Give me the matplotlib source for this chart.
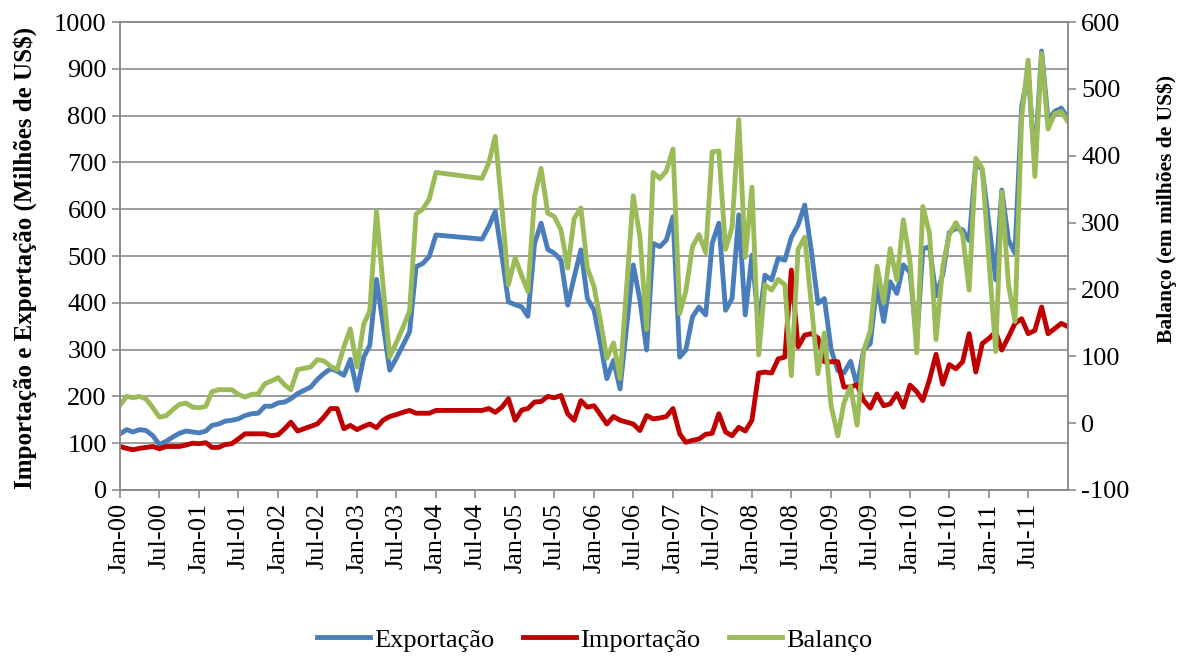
import matplotlib
matplotlib.use("Agg")
import matplotlib.pyplot as plt
import matplotlib.dates as mdates
import numpy as np
import pandas as pd

plt.rcParams["font.family"] = ["Liberation Serif", "DejaVu Serif"]
plt.rcParams["axes.unicode_minus"] = False

# Monthly data Jan-00 .. Jan-12 (Feb-04 .. Jul-04 missing in the source)
exportacao = [
    120, 129, 124, 129, 127, 116, 97, 104, 113, 121, 126, 124,      # 2000
    122, 126, 138, 141, 147, 149, 152, 159, 163, 164, 179, 179,     # 2001
    186, 188, 195, 206, 213, 220, 236, 249, 259, 254, 245, 279,     # 2002
    213, 284, 309, 450, 356, 256, 281, 309, 338, 477, 484, 499,     # 2003
    545, 536, 563, 595, 500, 402,                                   # 2004 (Jan, Aug-Dec)
    396, 391, 371, 527, 570, 514, 506, 491, 395, 455, 513, 409,     # 2005
    384, 310, 238, 277, 216, 350, 481, 406, 299, 527, 520, 534,     # 2006
    584, 284, 299, 370, 391, 374, 527, 570, 384, 409, 588, 374,     # 2007
    502, 352, 459, 449, 495, 491, 540, 566, 609, 513, 399, 409,     # 2008
    300, 255, 250, 275, 222, 300, 313, 440, 360, 445, 420, 481,     # 2009
    465, 315, 515, 520, 415, 460, 550, 559, 556, 533, 700, 684,     # 2010
    566, 449, 641, 534, 506, 820, 890, 700, 938, 791, 809, 816,     # 2011
    795,                                                            # 2012
]
importacao = [
    93, 89, 86, 89, 91, 93, 88, 93, 93, 93, 96, 100,
    99, 101, 91, 91, 97, 99, 109, 120, 120, 120, 120, 116,
    118, 131, 145, 126, 131, 136, 141, 156, 174, 174, 131, 138,
    129, 136, 141, 133, 149, 157, 161, 166, 170, 164, 164, 164,
    170, 170, 174, 166, 177, 195,
    149, 171, 174, 188, 189, 200, 197, 202, 163, 149, 191, 177,
    180, 160, 141, 157, 149, 145, 141, 127, 159, 152, 154, 157,
    174, 120, 102, 106, 109, 119, 121, 163, 124, 116, 134, 126,
    149, 250, 252, 250, 280, 284, 470, 306, 331, 334, 325, 274,
    274, 274, 220, 220, 225, 191, 175, 205, 180, 184, 206, 177,
    224, 210, 191, 236, 290, 226, 268, 259, 274, 334, 252, 313,
    324, 338, 299, 327, 356, 366, 334, 341, 391, 334, 345, 356,
    349,
]
balanco = [
    27, 40, 38, 40, 36, 23, 9, 11, 20, 28, 30, 24,
    23, 25, 47, 50, 50, 50, 43, 39, 43, 44, 59, 63,
    68, 57, 50, 80, 82, 84, 95, 93, 85, 80, 114, 141,
    84, 148, 168, 317, 207, 99, 120, 143, 168, 313, 320, 335,
    375, 366, 389, 429, 323, 207,
    247, 220, 197, 339, 381, 314, 309, 289, 232, 306, 322, 232,
    204, 150, 97, 120, 67, 205, 340, 279, 140, 375, 366, 377,
    410, 164, 197, 264, 282, 255, 406, 407, 260, 293, 454, 248,
    353, 102, 207, 199, 215, 207, 71, 260, 278, 179, 74, 135,
    26, -19, 30, 55, -3, 109, 138, 235, 180, 261, 214, 304,
    241, 105, 324, 284, 125, 234, 282, 300, 282, 199, 396, 381,
    242, 107, 346, 207, 152, 458, 543, 369, 553, 440, 463, 466,
    451,
]

all_months = pd.date_range("2000-01-01", "2012-01-01", freq="MS")
gap = (all_months >= "2004-02-01") & (all_months <= "2004-07-01")
months = all_months[~gap]

fig = plt.figure(figsize=(11.89, 6.57), dpi=100)
ax = fig.add_axes([0.1009, 0.2542, 0.7973, 0.7123])
ax2 = ax.twinx()

blue, red, green = "#4A7EBB", "#C00000", "#9BBB59"
grid_c = "#8C8C8C"
lw = 3.5

l1, = ax.plot(months, exportacao, color=blue, lw=lw, solid_joinstyle="round", label="Exportação")
l2, = ax.plot(months, importacao, color=red, lw=lw, solid_joinstyle="round", label="Importação")
l3, = ax2.plot(months, balanco, color=green, lw=lw, solid_joinstyle="round", label="Balanço")

ax.set_ylim(0, 1000)
ax.set_yticks(np.arange(0, 1001, 100))
ax2.set_ylim(-100, 600)
ax2.set_yticks(np.arange(-100, 601, 100))
ax.set_xlim(all_months[0], all_months[-1])

ticks = pd.date_range("2000-01-01", "2011-07-01", freq="6MS")
ax.set_xticks(ticks)
ax.xaxis.set_major_formatter(mdates.DateFormatter("%b-%y"))
for lab in ax.get_xticklabels():
    lab.set_rotation(90)

ax.grid(axis="y", color=grid_c, lw=1.2)
ax.set_axisbelow(True)
for a in (ax, ax2):
    for s in a.spines.values():
        s.set_color(grid_c)
        s.set_linewidth(1.2)
ax.tick_params(axis="both", colors=grid_c, labelcolor="black", labelsize=19, length=6, width=1.2)
ax2.tick_params(axis="y", colors=grid_c, labelcolor="black", labelsize=19, length=6, width=1.2)

ax.set_ylabel("Importação e Exportação (Milhões de US$)", fontsize=18, fontweight="bold")
ax.yaxis.set_label_coords(-0.088, 0.495)
ax2.set_ylabel("Balanço (em milhões de US$)", fontsize=15.5, fontweight="bold")
ax2.yaxis.set_label_coords(1.093, 0.60)

fig.legend(handles=[l1, l2, l3], loc="center", bbox_to_anchor=(0.5, 0.026), ncol=3,
           frameon=False, fontsize=19, handlelength=2.0, handletextpad=0.15, columnspacing=1.1)

fig.savefig("out.png", dpi=100)
